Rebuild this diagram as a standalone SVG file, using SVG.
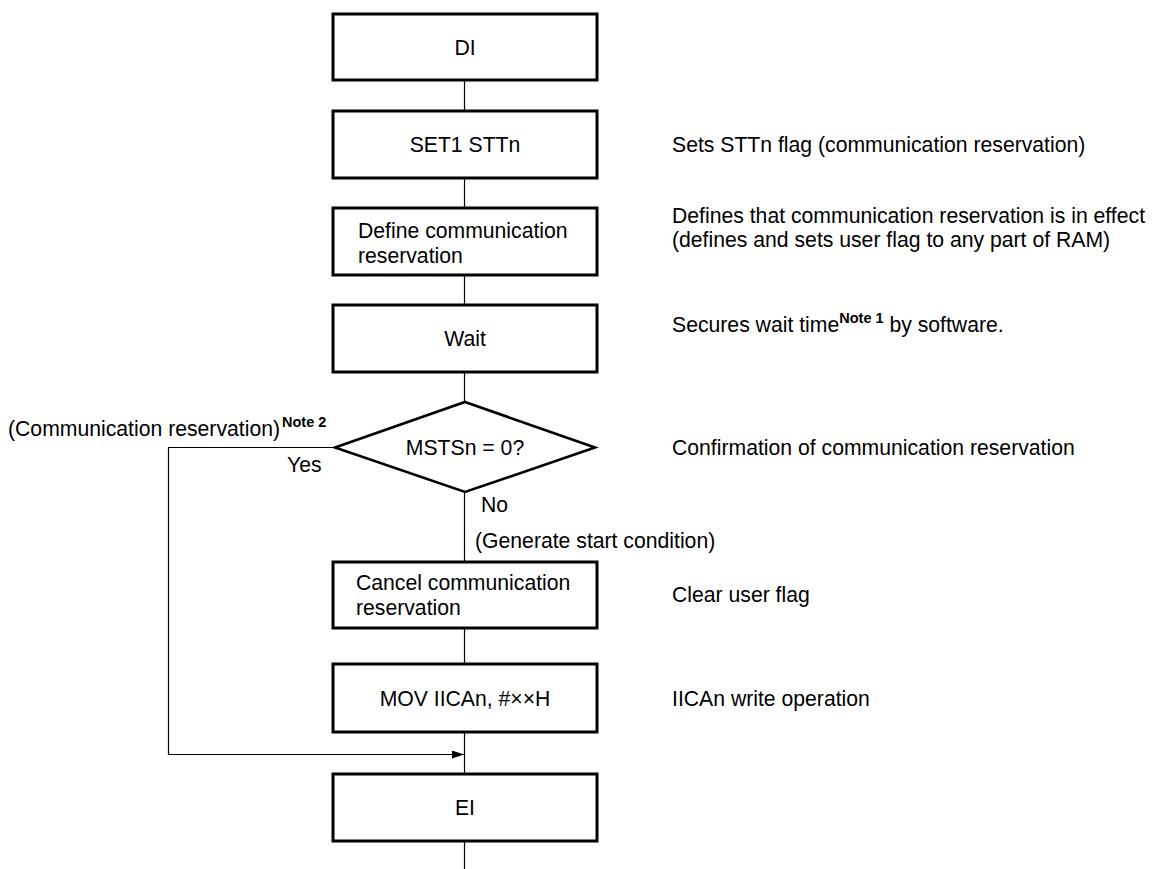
<svg xmlns="http://www.w3.org/2000/svg" width="1152" height="869" viewBox="0 0 1152 869">
<defs>
<marker id="arr" viewBox="0 0 12 8" refX="12" refY="4" markerWidth="12" markerHeight="8" markerUnits="userSpaceOnUse" orient="auto">
<path d="M0,0 L12,4 L0,8 Z" fill="#000"/>
</marker>
<style>
.box{fill:#fff;stroke:#000;stroke-width:3}
.dia{fill:#fff;stroke:#000;stroke-width:2.6}
.ln{fill:none;stroke:#000;stroke-width:1.2}
text{font-family:"Liberation Sans",Arial,sans-serif;font-size:21.2px;fill:#000}
.c{text-anchor:middle}
.sup{font-size:14.5px;font-weight:bold}
</style>
</defs>
<rect width="1152" height="869" fill="#fff"/>
<g id="connectors">
<line class="ln" x1="464.5" y1="80" x2="464.5" y2="111"/>
<line class="ln" x1="464.5" y1="178" x2="464.5" y2="208"/>
<line class="ln" x1="464.5" y1="275" x2="464.5" y2="305"/>
<line class="ln" x1="464.5" y1="372" x2="464.5" y2="402"/>
<line class="ln" x1="464.5" y1="492" x2="464.5" y2="562"/>
<line class="ln" x1="464.5" y1="628" x2="464.5" y2="664"/>
<line class="ln" x1="464.5" y1="732" x2="464.5" y2="774"/>
<line class="ln" x1="464.5" y1="841" x2="464.5" y2="869"/>
<polyline class="ln" points="335,447.5 168.5,447.5 168.5,754.5 464,754.5" marker-end="url(#arr)"/>
<text x="287" y="472">Yes</text>
<text x="481" y="512">No</text>
<text x="475" y="548">(Generate start condition)</text>
<text x="8" y="436">(Communication reservation)<tspan class="sup" dx="2" dy="-9">Note 2</tspan></text>
</g>
<g id="n_di">
<rect class="box" x="333" y="14" width="264" height="66"/>
<text class="c" x="465" y="54.5">DI</text>
</g>
<g id="n_set1">
<rect class="box" x="333" y="111" width="264" height="67"/>
<text class="c" x="465" y="152">SET1 STTn</text>
<text x="672" y="152">Sets STTn flag (communication reservation)</text>
</g>
<g id="n_define">
<rect class="box" x="333" y="208" width="264" height="67"/>
<text x="358" y="238">Define communication</text>
<text x="358" y="263">reservation</text>
<text x="672" y="223">Defines that communication reservation is in effect</text>
<text x="672" y="247">(defines and sets user flag to any part of RAM)</text>
</g>
<g id="n_wait">
<rect class="box" x="333" y="305" width="264" height="67"/>
<text class="c" x="465" y="346">Wait</text>
<text x="672" y="332">Secures wait time<tspan class="sup" dy="-9">Note 1</tspan><tspan dy="9"> by software.</tspan></text>
</g>
<g id="n_msts">
<polygon class="dia" points="465,402 595,447.5 465,492 335,447.5"/>
<text class="c" x="465" y="455">MSTSn = 0?</text>
<text x="672" y="455">Confirmation of communication reservation</text>
</g>
<g id="n_cancel">
<rect class="box" x="333" y="562" width="264" height="66"/>
<text x="356" y="590">Cancel communication</text>
<text x="356" y="615">reservation</text>
<text x="672" y="602">Clear user flag</text>
</g>
<g id="n_mov">
<rect class="box" x="333" y="664" width="264" height="68"/>
<text class="c" x="465" y="705.5">MOV IICAn, #××H</text>
<text x="672" y="705.5">IICAn write operation</text>
</g>
<g id="n_ei">
<rect class="box" x="333" y="774" width="264" height="67"/>
<text class="c" x="465" y="815">EI</text>
</g>
</svg>
